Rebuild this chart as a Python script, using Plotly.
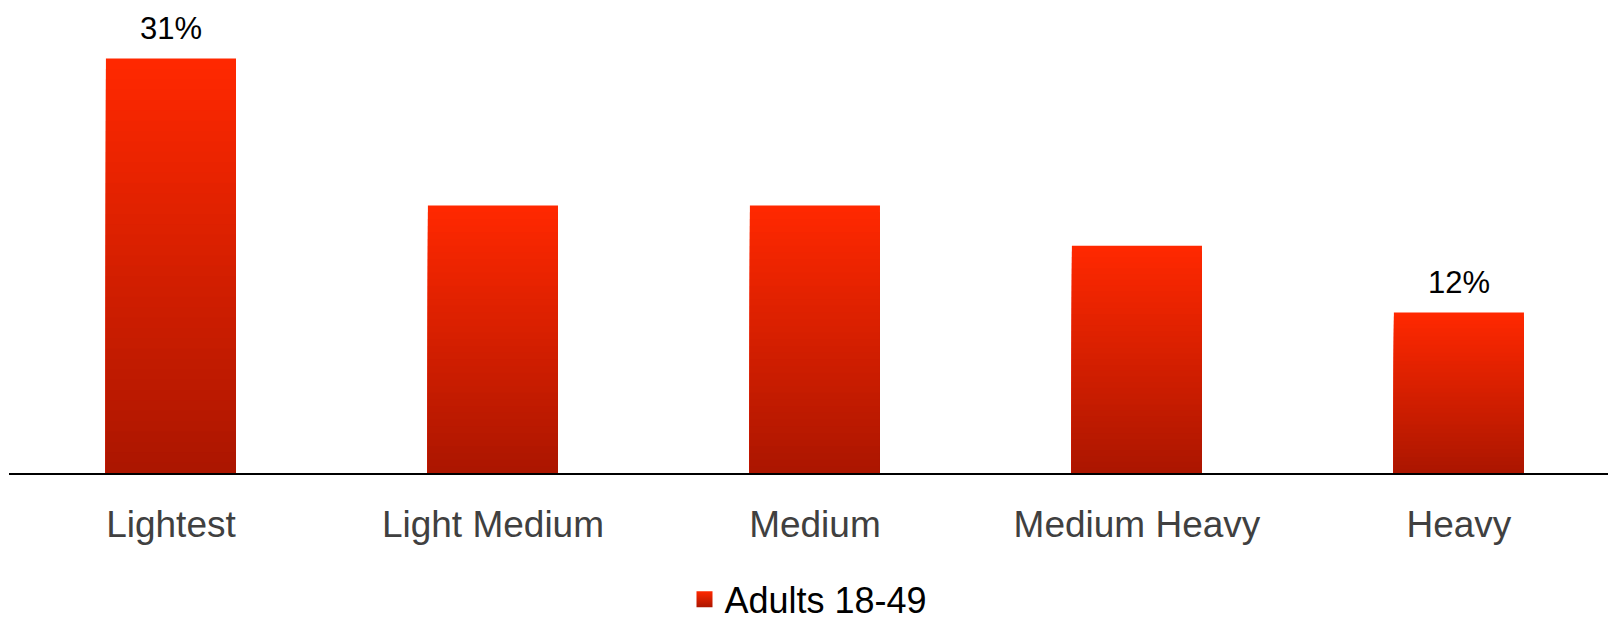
import plotly.graph_objects as go

categories = ["Lightest", "Light Medium", "Medium", "Medium Heavy", "Heavy"]
values = [31, 20, 20, 17, 12]
shown_labels = ["31%", "", "", "", "12%"]
series_name = "Adults 18-49"

TOP = (255, 40, 0)
BOTTOM = (172, 22, 0)
N = 40

def mix(t):
    r = round(TOP[0] + (BOTTOM[0] - TOP[0]) * t)
    g = round(TOP[1] + (BOTTOM[1] - TOP[1]) * t)
    b = round(TOP[2] + (BOTTOM[2] - TOP[2]) * t)
    return f"rgb({r},{g},{b})"

fig = go.Figure()
for k in range(N):
    frac = 1 - k / N
    fig.add_trace(go.Bar(
        x=categories,
        y=[v * frac for v in values],
        marker=dict(color=mix(k / (N - 1)), line=dict(width=0)),
        showlegend=False,
        hoverinfo="skip" if k else None,
        name=series_name,
    ))

# legend entry
fig.add_trace(go.Scatter(
    x=[categories[0]], y=[None], mode="markers", name=series_name,
    marker=dict(symbol="square", size=20, color=mix(0),
                gradient=dict(type="vertical", color=mix(1))),
    showlegend=True,
))

for c, v, lab in zip(categories, values, shown_labels):
    if lab:
        fig.add_annotation(x=c, y=v, text=lab, showarrow=False, yanchor="bottom",
                           yshift=11, font=dict(size=31, color="#000000",
                                                family="Liberation Sans, Arial, sans-serif"))

fig.update_layout(
    width=1608, height=620,
    margin=dict(l=9, r=0, t=20, b=147, autoexpand=False),
    barmode="overlay",
    bargap=0.596,
    plot_bgcolor="white", paper_bgcolor="white",
    font=dict(family="Liberation Sans, Arial, sans-serif", size=37, color="#000000"),
    showlegend=True,
    legend=dict(orientation="h", x=0.5, xanchor="center", y=-0.345, yanchor="bottom",
                font=dict(size=36, color="#000000"), itemwidth=30),
    xaxis=dict(range=[-0.503, 4.463], showline=True, linecolor="#000000", linewidth=2,
               ticks="outside", ticklen=18, tickcolor="rgba(0,0,0,0)",
               tickfont=dict(size=37, color="#404040"), showgrid=False, zeroline=False),
    yaxis=dict(range=[0, 33.88], visible=False, showgrid=False, zeroline=False),
)

fig.write_html("out.html")
